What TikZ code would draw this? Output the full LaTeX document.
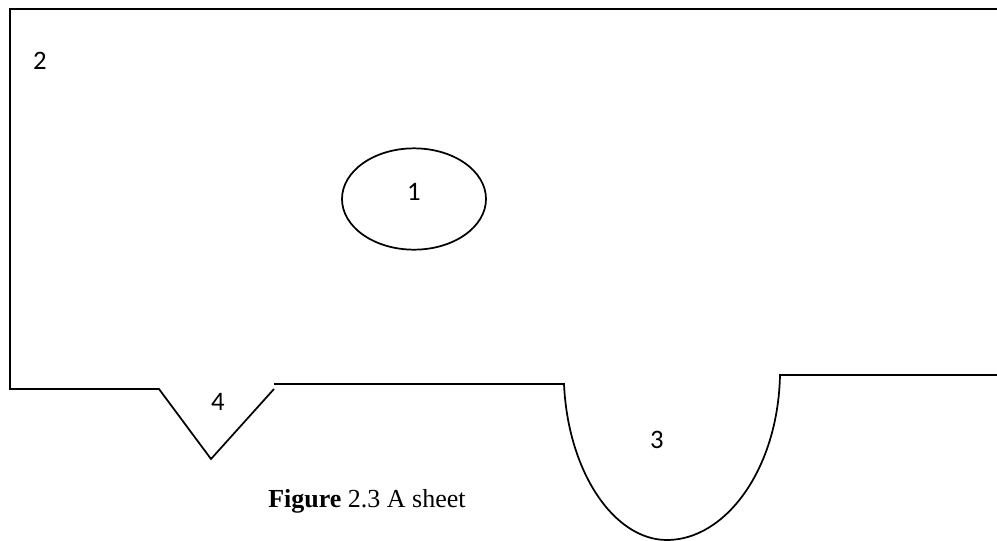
\documentclass[tikz,border=0pt]{standalone}
\usepackage{fontspec}
\setmainfont{Liberation Serif}
\newfontfamily\labelfont{Carlito}
\usetikzlibrary{shapes.geometric, positioning}

\tikzset{
  edge/.style={line width=1.3pt, black},
  num/.style={font=\labelfont\fontsize{20}{24}\selectfont, inner sep=0pt},
}

\begin{document}
\begin{tikzpicture}[x=0.75pt, y=-0.75pt]
\useasboundingbox (0,0) rectangle (997,540);

% 板的外形
\draw[edge] (997,9) -- (10,9) -- (10,389) -- (159,389) -- (211,459) -- (274,389);
\draw[edge] (274,384) -- (564,384)
    .. controls (568,472) and (614,540) .. (667,540)
    .. controls (725,540) and (778,470) .. (780,375) -- (997,375);

% 中间的孔
\node[ellipse, draw, line width=1.3pt, minimum width=108pt, minimum height=76pt, inner sep=0pt] (hole) at (414,199) {};

% 编号
\node[num] (n1) at (414,192) {1};
\node[num] (n2) at (40,61) {2};
\node[num] (n3) at (657,440) {3};
\node[num] (n4) at (218,402) {4};

% 图题
\node[anchor=base west, inner sep=0pt, font=\fontsize{19.5}{23}\selectfont] (caption) at (268,507) {\textbf{Figure} 2.3 A sheet};

\end{tikzpicture}
\end{document}
